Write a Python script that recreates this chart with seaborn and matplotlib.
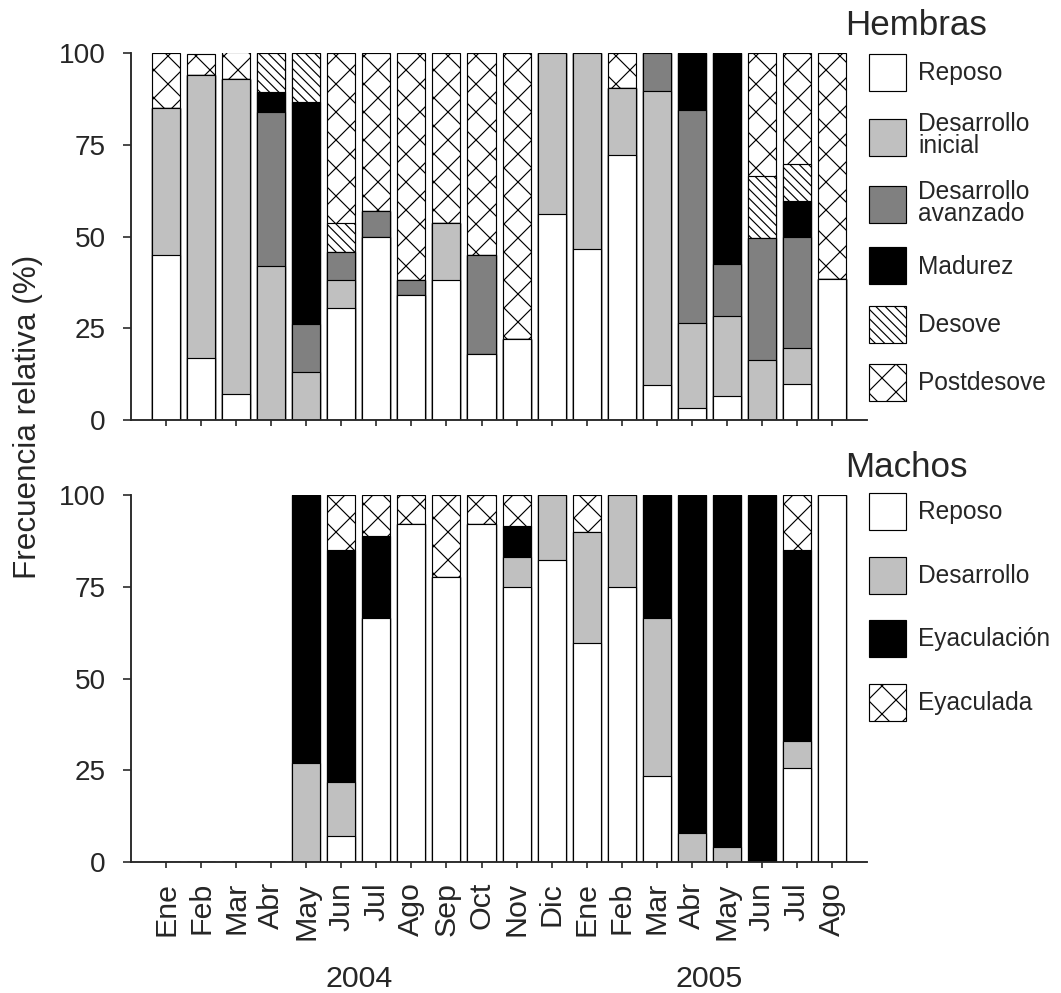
import numpy as np
import matplotlib
matplotlib.use("Agg")
import matplotlib.pyplot as plt
from matplotlib.patches import Patch
import seaborn as sns

sns.set_style("ticks")
plt.rcParams['font.family'] = ['Liberation Sans', 'DejaVu Sans']
plt.rcParams['hatch.linewidth'] = 0.5

months = ['Ene', 'Feb', 'Mar', 'Abr', 'May', 'Jun', 'Jul', 'Ago', 'Sep', 'Oct', 'Nov', 'Dic',
          'Ene', 'Feb', 'Mar', 'Abr', 'May', 'Jun', 'Jul', 'Ago']
years = ['2004', '2005']

# Hembras (% por estadio)
h_reposo = [45, 17, 7, 0, 0, 30.4, 50, 34.2, 38.2, 18, 22, 56.1, 46.7, 72.2, 9.6, 3.4, 6.6, 0, 9.7, 38.3]
h_des_inicial = [40, 77, 86, 42, 13, 7.8, 0, 0, 15.4, 0, 0, 43.9, 53.3, 18.4, 80.1, 23.1, 21.7, 16.3, 10, 0]
h_des_avanzado = [0, 0, 0, 42, 13.3, 7.6, 6.9, 3.9, 0, 27.1, 0, 0, 0, 0, 10.3, 57.9, 14.2, 33.4, 30.1, 0]
h_madurez = [0, 0, 0, 5.5, 60.3, 0, 0, 0, 0, 0, 0, 0, 0, 0, 0, 15.6, 57.5, 0, 9.9, 0]
h_desove = [0, 0, 0, 10.5, 13.4, 7.8, 0, 0, 0, 0, 0, 0, 0, 0, 0, 0, 0, 16.7, 10.1, 0]
h_postdesove = [15, 5.8, 7.4, 0, 0, 46.4, 43.1, 61.9, 46.4, 54.9, 78, 0, 0, 9.4, 0, 0, 0, 33.6, 30.2, 61.7]

# Machos
m_reposo = [0, 0, 0, 0, 0, 7.1, 66.5, 92.2, 77.6, 92.2, 74.8, 82.2, 59.8, 75, 23.5, 0, 0, 0, 25.5, 100]
m_desarrollo = [0, 0, 0, 0, 26.9, 14.8, 0, 0, 0, 0, 8.3, 17.8, 30, 25, 43, 8, 4.1, 0, 7.6, 0]
m_eyaculacion = [0, 0, 0, 0, 73.1, 63.1, 22.3, 0, 0, 0, 8.5, 0, 0, 0, 33.5, 92, 95.9, 100, 51.9, 0]
m_eyaculada = [0, 0, 0, 0, 0, 15, 11.2, 7.8, 22.4, 7.8, 8.4, 0, 10.2, 0, 0, 0, 0, 0, 15, 0]

h_labels = ['Reposo', 'Desarrollo\ninicial', 'Desarrollo\navanzado', 'Madurez', 'Desove', 'Postdesove']
m_labels = ['Reposo', 'Desarrollo', 'Eyaculación', 'Eyaculada']

h_styles = [('white', None), ('#c0c0c0', None), ('#808080', None), ('black', None),
            ('white', '\\' * 6), ('white', 'xx')]
m_styles = [('white', None), ('#c0c0c0', None), ('black', None), ('white', 'xx')]

x_idx = list(range(len(months)))


def stacked(ax, stages, styles):
    cum = np.cumsum(np.array(stages, dtype=float), axis=0)
    # draw from the top stage down so each lower stage covers the one above
    for k in range(len(stages) - 1, -1, -1):
        fc, hatch = styles[k]
        sns.barplot(x=x_idx, y=cum[k], color=fc, hatch=hatch, edgecolor='black',
                    linewidth=0.5, saturation=1, width=0.8, errorbar=None, ax=ax)


def legend(ax, labels, styles, top, spacing):
    handles = [Patch(facecolor=fc, edgecolor='black', hatch=h, linewidth=0.5, label=l)
               for (fc, h), l in zip(styles, labels)]
    leg = ax.legend(handles=handles, loc='upper left', bbox_to_anchor=(0.819, top),
                    bbox_transform=fig.transFigure, frameon=False, borderpad=0,
                    borderaxespad=0, fontsize=10.5, handlelength=1.51, handleheight=1.95,
                    handletextpad=0.49, labelspacing=spacing)
    for t in leg.get_texts():
        t.set_linespacing(0.9)


fig = plt.figure(figsize=(1061 / 168, 993 / 168), dpi=168)
ax1 = fig.add_axes([0.1235, 0.577, 0.6937, 0.3696])
ax2 = fig.add_axes([0.1235, 0.1319, 0.6937, 0.3696])

stacked(ax1, [h_reposo, h_des_inicial, h_des_avanzado, h_madurez, h_desove, h_postdesove], h_styles)
stacked(ax2, [m_reposo, m_desarrollo, m_eyaculacion, m_eyaculada], m_styles)

for ax in (ax1, ax2):
    ax.set_xlim(-1, len(months))
    ax.set_ylim(0, 100)
    ax.set_yticks([0, 25, 50, 75, 100])
    ax.set_xticks(x_idx)
    ax.set_xlabel('')
    ax.set_ylabel('')
    ax.tick_params(axis='y', labelsize=12, length=3.3, width=0.7, pad=7.5)
    ax.tick_params(axis='x', labelsize=13, length=2.6, width=0.7, pad=6)
    for s in ('left', 'bottom'):
        ax.spines[s].set_linewidth(0.8)
    sns.despine(ax=ax)

ax1.set_xticklabels([])
ax2.set_xticklabels(months, rotation=90)

tr = ax2.get_xaxis_transform()
ax2.text(5.5, -0.319, years[0], transform=tr, ha='center', va='center', fontsize=13)
ax2.text(15.5, -0.319, years[1], transform=tr, ha='center', va='center', fontsize=13)

fig.text(0.026, 0.58, 'Frecuencia relativa (%)', rotation=90, ha='center', va='center', fontsize=13.5)

fig.text(0.797, 1 - 35 / 993, 'Hembras', ha='left', va='baseline', fontsize=15)
fig.text(0.797, 1 - 477 / 993, 'Machos', ha='left', va='baseline', fontsize=15)

legend(ax1, h_labels, h_styles, 1 - 54 / 993, 0.87)
legend(ax2, m_labels, m_styles, 1 - 493 / 993, 1.08)

fig.savefig('out.png', dpi=168)
